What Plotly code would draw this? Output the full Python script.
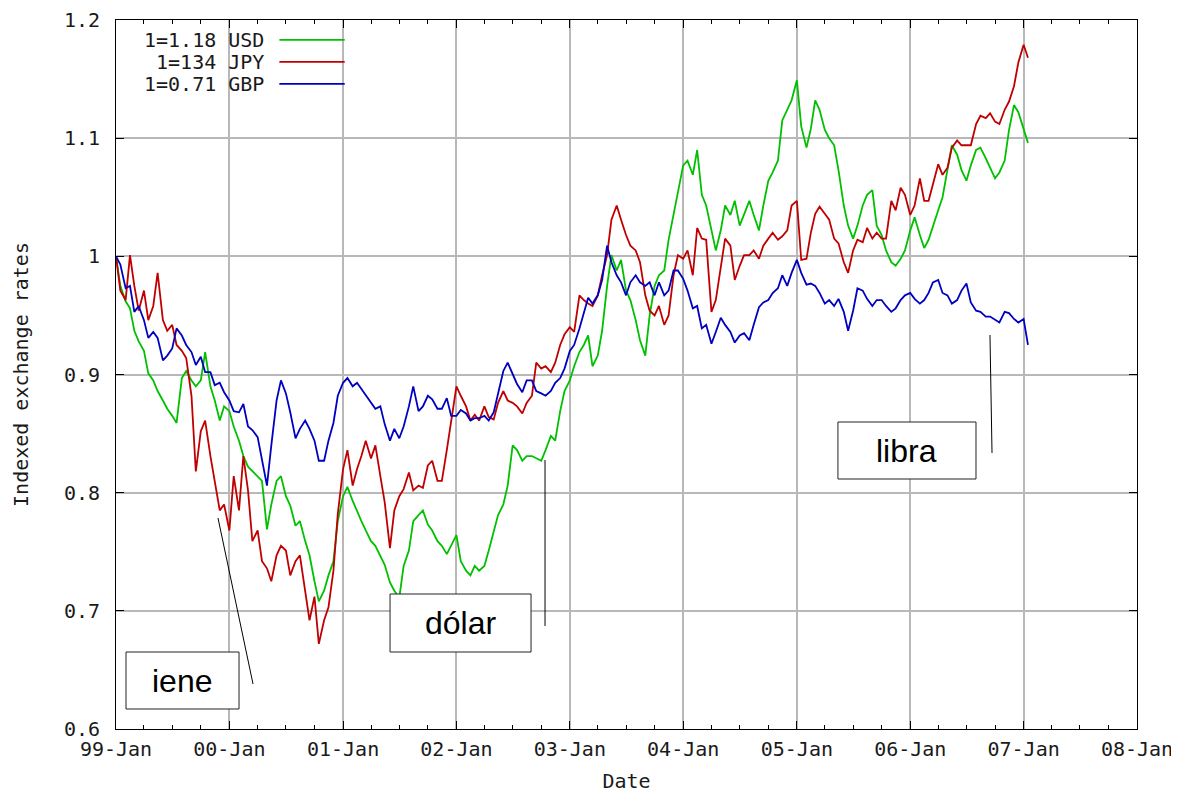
import pandas as pd
import plotly.graph_objects as go

# semi-monthly observation dates (1st and 15th of each month)
dates = pd.date_range("1999-01-01", periods=194, freq="SMS")

labels = ["1=1.18 USD", " 1=134 JPY", "1=0.71 GBP"]
colors = ["#00c000", "#c00000", "#0000c0"]

usd = [
    1.000, 0.975, 0.962, 0.956, 0.937, 0.928, 0.920, 0.901, 0.895, 0.886, 0.878, 0.871,
    0.865, 0.859, 0.897, 0.903, 0.895, 0.890, 0.895, 0.919, 0.890, 0.878, 0.861, 0.873,
    0.869, 0.856, 0.844, 0.831, 0.822, 0.818, 0.814, 0.810, 0.769, 0.790, 0.810, 0.814,
    0.797, 0.789, 0.772, 0.776, 0.759, 0.747, 0.725, 0.708, 0.717, 0.730, 0.742, 0.776,
    0.797, 0.805, 0.793, 0.784, 0.776, 0.768, 0.759, 0.755, 0.747, 0.739, 0.724, 0.717,
    0.711, 0.738, 0.751, 0.776, 0.781, 0.785, 0.773, 0.768, 0.759, 0.755, 0.748, 0.755,
    0.764, 0.742, 0.734, 0.730, 0.738, 0.734, 0.738, 0.751, 0.768, 0.781, 0.790, 0.806,
    0.840, 0.836, 0.827, 0.831, 0.831, 0.829, 0.827, 0.836, 0.848, 0.844, 0.869, 0.886,
    0.895, 0.907, 0.919, 0.925, 0.933, 0.907, 0.916, 0.937, 0.975, 1.001, 0.988, 0.997,
    0.971, 0.963, 0.946, 0.929, 0.916, 0.950, 0.975, 0.984, 0.988, 1.014, 1.035, 1.052,
    1.077, 1.081, 1.069, 1.090, 1.052, 1.043, 1.022, 1.005, 1.022, 1.043, 1.035, 1.047,
    1.026, 1.035, 1.047, 1.035, 1.022, 1.043, 1.064, 1.071, 1.081, 1.115, 1.124, 1.132,
    1.149, 1.110, 1.092, 1.108, 1.132, 1.124, 1.107, 1.100, 1.094, 1.073, 1.043, 1.026,
    1.015, 1.026, 1.043, 1.052, 1.056, 1.026, 1.018, 1.005, 0.995, 0.992, 0.998, 1.005,
    1.022, 1.033, 1.018, 1.007, 1.014, 1.026, 1.039, 1.050, 1.073, 1.094, 1.086, 1.073,
    1.064, 1.077, 1.090, 1.092, 1.083, 1.075, 1.066, 1.071, 1.081, 1.107, 1.128, 1.122,
    1.107, 1.096,
]

jpy = [
    1.000, 0.971, 0.963, 1.001, 0.975, 0.954, 0.971, 0.946, 0.958, 0.986, 0.946, 0.937,
    0.942, 0.925, 0.920, 0.914, 0.882, 0.818, 0.852, 0.861, 0.831, 0.810, 0.785, 0.790,
    0.768, 0.814, 0.785, 0.831, 0.802, 0.759, 0.768, 0.742, 0.736, 0.725, 0.747, 0.755,
    0.751, 0.730, 0.742, 0.747, 0.717, 0.692, 0.712, 0.672, 0.692, 0.703, 0.734, 0.782,
    0.820, 0.836, 0.806, 0.820, 0.831, 0.844, 0.829, 0.840, 0.814, 0.792, 0.753, 0.785,
    0.797, 0.803, 0.817, 0.802, 0.806, 0.804, 0.823, 0.827, 0.810, 0.810, 0.836, 0.861,
    0.890, 0.882, 0.873, 0.861, 0.866, 0.861, 0.873, 0.864, 0.862, 0.876, 0.886, 0.878,
    0.876, 0.873, 0.867, 0.876, 0.882, 0.910, 0.905, 0.907, 0.902, 0.910, 0.925, 0.934,
    0.940, 0.936, 0.967, 0.963, 0.960, 0.958, 0.967, 0.984, 1.001, 1.031, 1.043, 1.031,
    1.018, 1.009, 1.005, 0.995, 0.967, 0.954, 0.950, 0.958, 0.942, 0.950, 0.984, 1.001,
    0.998, 1.005, 0.984, 1.024, 1.015, 1.014, 0.953, 0.963, 0.992, 1.015, 1.009, 0.980,
    0.992, 1.001, 1.001, 1.005, 0.998, 1.009, 1.015, 1.020, 1.014, 1.017, 1.022, 1.043,
    1.047, 0.997, 0.998, 1.020, 1.036, 1.042, 1.036, 1.031, 1.015, 1.011, 0.995, 0.986,
    1.005, 1.014, 1.012, 1.024, 1.015, 1.020, 1.015, 1.015, 1.047, 1.039, 1.058, 1.052,
    1.035, 1.043, 1.066, 1.047, 1.047, 1.060, 1.078, 1.069, 1.075, 1.092, 1.098, 1.094,
    1.094, 1.094, 1.112, 1.119, 1.117, 1.121, 1.114, 1.112, 1.124, 1.131, 1.144, 1.164,
    1.179, 1.168,
]

gbp = [
    1.000, 0.993, 0.973, 0.975, 0.953, 0.958, 0.946, 0.931, 0.936, 0.931, 0.912, 0.916,
    0.922, 0.939, 0.933, 0.925, 0.919, 0.908, 0.915, 0.902, 0.902, 0.891, 0.893, 0.885,
    0.878, 0.869, 0.868, 0.875, 0.856, 0.853, 0.847, 0.829, 0.806, 0.840, 0.878, 0.895,
    0.884, 0.868, 0.846, 0.854, 0.861, 0.854, 0.844, 0.827, 0.827, 0.844, 0.859, 0.882,
    0.893, 0.897, 0.890, 0.893, 0.888, 0.882, 0.876, 0.871, 0.873, 0.858, 0.844, 0.854,
    0.846, 0.856, 0.873, 0.890, 0.869, 0.873, 0.882, 0.879, 0.871, 0.871, 0.880, 0.865,
    0.865, 0.870, 0.867, 0.861, 0.863, 0.863, 0.865, 0.861, 0.868, 0.885, 0.903, 0.910,
    0.901, 0.892, 0.885, 0.895, 0.895, 0.886, 0.884, 0.882, 0.886, 0.893, 0.897, 0.905,
    0.920, 0.925, 0.939, 0.953, 0.965, 0.960, 0.967, 0.980, 1.009, 0.995, 0.984, 0.978,
    0.967, 0.978, 0.984, 0.978, 0.975, 0.978, 0.967, 0.978, 0.967, 0.971, 0.988, 0.988,
    0.981, 0.971, 0.956, 0.958, 0.939, 0.942, 0.926, 0.936, 0.948, 0.942, 0.936, 0.927,
    0.933, 0.935, 0.929, 0.942, 0.957, 0.961, 0.963, 0.969, 0.973, 0.984, 0.975, 0.986,
    0.997, 0.986, 0.976, 0.977, 0.975, 0.969, 0.960, 0.963, 0.958, 0.964, 0.953, 0.937,
    0.954, 0.973, 0.971, 0.964, 0.958, 0.963, 0.963, 0.958, 0.953, 0.956, 0.963, 0.967,
    0.969, 0.964, 0.960, 0.963, 0.969, 0.978, 0.980, 0.969, 0.967, 0.960, 0.963, 0.971,
    0.977, 0.961, 0.954, 0.953, 0.949, 0.949, 0.946, 0.944, 0.953, 0.952, 0.947, 0.944,
    0.947, 0.925,
]

series = [usd, jpy, gbp]

y_ticks = [0.6, 0.7, 0.8, 0.9, 1.0, 1.1, 1.2]
y_ticktext = ["0.6", "0.7", "0.8", "0.9", "1", "1.1", "1.2"]

callout_texts = ["iene", "dólar", "libra"]

MONO = "DejaVu Sans Mono"
FS = 20
TXT = "#1a1a1a"

fig = go.Figure()
for vals, name, col in zip(series, labels, colors):
    fig.add_trace(go.Scatter(
        x=dates, y=vals, mode="lines", name=name.strip(),
        line=dict(color=col, width=1.8), showlegend=False,
    ))

shapes = []
annotations = []

# white legend background covering grid lines
shapes.append(dict(type="rect", xref="paper", yref="paper", x0=0.001, x1=0.231,
                   y0=0.894, y1=0.999, fillcolor="white", line=dict(width=0),
                   layer="between"))
legend_rows = [0.972, 0.941, 0.910]
for name, col, yy in zip(labels, colors, legend_rows):
    annotations.append(dict(xref="paper", yref="paper", x=0.147, y=yy, text=name,
                            showarrow=False, xanchor="right", yanchor="middle",
                            font=dict(family=MONO, size=FS, color=TXT)))
    shapes.append(dict(type="line", xref="paper", yref="paper", x0=0.160, x1=0.224,
                       y0=yy, y1=yy, line=dict(color=col, width=1.7)))

# callout boxes with pointer lines (paper coordinates)
boxes = [
    dict(x0=0.0098, x1=0.1205, y0=0.0282, y1=0.1086, lx=(0.0999, 0.1342), ly=(0.2976, 0.0635)),
    dict(x0=0.2684, x1=0.4065, y0=0.1086, y1=0.1904, lx=(0.4202, 0.4202), ly=(0.3794, 0.1453)),
    dict(x0=0.7071, x1=0.8423, y0=0.3526, y1=0.4330, lx=(0.8560, 0.8580), ly=(0.5557, 0.3893)),
]
for b, txt in zip(boxes, callout_texts):
    shapes.append(dict(type="rect", xref="paper", yref="paper", x0=b["x0"], x1=b["x1"],
                       y0=b["y0"], y1=b["y1"], line=dict(color="#222222", width=1),
                       fillcolor="white", layer="above"))
    shapes.append(dict(type="line", xref="paper", yref="paper", x0=b["lx"][0], x1=b["lx"][1],
                       y0=b["ly"][0], y1=b["ly"][1], line=dict(color="black", width=1)))
    annotations.append(dict(xref="paper", yref="paper", x=(b["x0"] + b["x1"]) / 2,
                            y=(b["y0"] + b["y1"]) / 2, text=txt, showarrow=False,
                            xanchor="center", yanchor="middle",
                            font=dict(family="Liberation Sans, Arial", size=32, color="black")))

# page body has an 8px margin: size the figure so the plot lands where the reference has it
fig.update_layout(
    width=1171, height=785,
    margin=dict(l=108, r=42, t=12, b=64, autoexpand=False),
    paper_bgcolor="white", plot_bgcolor="white",
    shapes=shapes, annotations=annotations,
    showlegend=False,
    font=dict(family=MONO, size=FS, color=TXT),
)

fig.update_xaxes(
    type="date", range=["1999-01-01", "2008-01-01"], automargin=False,
    tick0="1999-01-01", dtick="M12", tickformat="%y-%b",
    ticks="inside", ticklen=8, tickwidth=1, tickcolor="black",
    minor=dict(dtick="M3", ticks="inside", ticklen=4, tickcolor="black", showgrid=False),
    showgrid=True, gridcolor="#b8b8b8", gridwidth=2,
    showline=True, linecolor="black", linewidth=1, mirror="ticks",
    ticklabelstandoff=2,
    tickfont=dict(family=MONO, size=FS, color=TXT),
    title=dict(text="Date", font=dict(family=MONO, size=FS, color=TXT), standoff=13),
    zeroline=False,
)
fig.update_yaxes(
    range=[0.6, 1.2], automargin=False,
    tickvals=y_ticks, ticktext=y_ticktext,
    ticks="inside", ticklen=8, tickwidth=1, tickcolor="black",
    showgrid=True, gridcolor="#b8b8b8", gridwidth=2,
    showline=True, linecolor="black", linewidth=1, mirror="ticks",
    ticklabelstandoff=11,
    tickfont=dict(family=MONO, size=FS, color=TXT),
    title=dict(text="Indexed exchange rates", font=dict(family=MONO, size=FS, color=TXT), standoff=29),
    zeroline=False,
)

fig.write_html("out.html")
